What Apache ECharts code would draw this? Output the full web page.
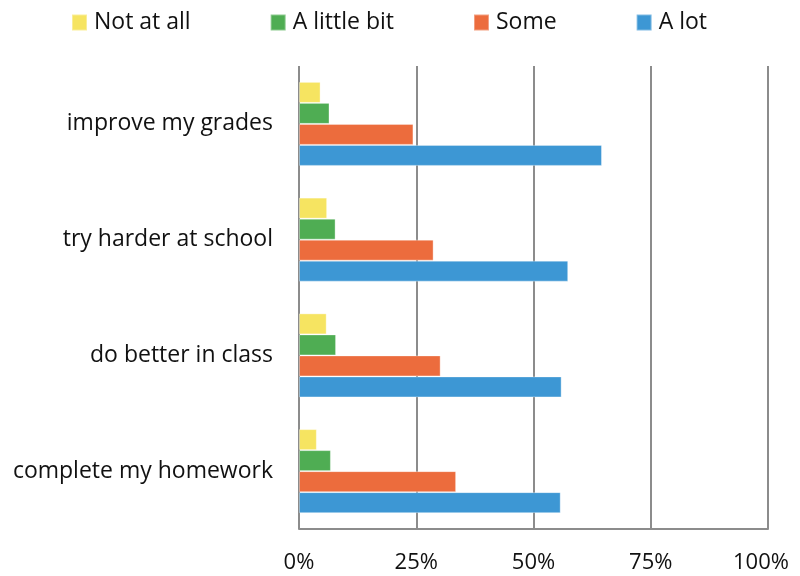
<!DOCTYPE html>
<html><head><meta charset="utf-8">
<script src="https://cdn.jsdelivr.net/npm/echarts@6/dist/echarts.min.js"></script>
<style>html,body{margin:0;padding:0;background:#fff}#c{width:800px;height:576px}</style>
</head><body><div id="c"></div>
<script>
const categories = ["improve my grades", "try harder at school", "do better in class", "complete my homework"];
const seriesNames = ["Not at all", "A little bit", "Some", "A lot"];
const notAtAll = [4.6, 6.0, 5.9, 3.8];
const aLittleBit = [6.5, 7.8, 7.9, 6.8];
const some = [24.4, 28.7, 30.2, 33.5];
const aLot = [64.6, 57.4, 56.0, 55.8];
const xTicks = [0, 25, 50, 75, 100];
const colors = ["#F6E461", "#4FAD53", "#EC6C3D", "#3D97D4"];

const values = [notAtAll, aLittleBit, some, aLot];
const chart = echarts.init(document.getElementById('c'));
const font = '"Open Sans", "Noto Sans", sans-serif';
const xMax = xTicks[xTicks.length - 1];
chart.setOption({
  animation: false,
  textStyle: { fontFamily: font },
  legend: {
    left: 71, top: 11, padding: 0,
    itemWidth: 15, itemHeight: 16, itemGap: 79,
    icon: 'rect',
    textStyle: { fontSize: 23, color: '#111', fontFamily: font, padding: [0, 0, 0, 2] },
    data: seriesNames
  },
  grid: { left: 299, right: 32, top: 66, bottom: 47 },
  xAxis: {
    type: 'value', min: xTicks[0], max: xMax, interval: 25,
    axisLine: { show: true, lineStyle: { color: '#8c8c8c', width: 2 } },
    axisTick: { show: false },
    splitLine: { show: true, lineStyle: { color: '#8c8c8c', width: 2 } },
    axisLabel: {
      formatter: v => v === xMax ? '{r|' + v + '%}' : v + '%',
      rich: { r: { fontSize: 22, color: '#111', fontFamily: font, padding: [0, 14, 0, 0] } },
      fontSize: 22, color: '#111', margin: 23, fontFamily: font
    }
  },
  yAxis: {
    type: 'category', data: categories, inverse: true,
    axisLine: { show: false }, axisTick: { show: false },
    axisLabel: { fontSize: 23, color: '#111', margin: 26, fontFamily: font }
  },
  series: seriesNames.map((n, i) => ({
    name: n, type: 'bar', data: values[i],
    barWidth: 21, barGap: '0%',
    itemStyle: { color: colors[i], borderColor: 'rgba(255,255,255,0.35)', borderWidth: 1 }
  }))
});
</script></body></html>
